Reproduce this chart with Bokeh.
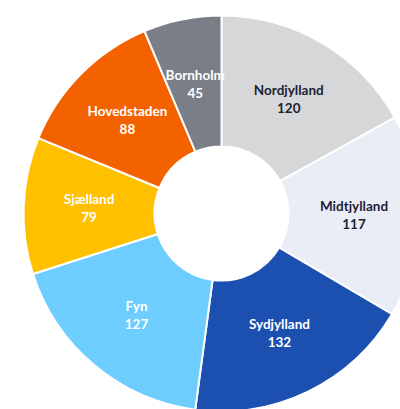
import math
from bokeh.plotting import figure
from bokeh.models import Range1d, ColumnDataSource
from bokeh.core.properties import value
from bokeh.embed import file_html
from bokeh.resources import INLINE

regions = ["Nordjylland", "Midtjylland", "Sydjylland", "Fyn", "Sjælland", "Hovedstaden", "Bornholm"]
counts = [120, 117, 132, 127, 79, 88, 45]
colors = ["#d6d7d9", "#e9edf6", "#1b4fb0", "#6dcdff", "#ffc000", "#f46200", "#7a7f87"]
label_colors = ["#1e1e35", "#1e1e35", "white", "white", "white", "white", "white"]

total = sum(counts)
cx, cy = 221, -213
r_in, r_out = 67, 198
r_lab = (r_in + r_out) / 2

starts, ends, lx, ly, vals = [], [], [], [], []
cum = 0
for c in counts:
    a0 = cum / total * 2 * math.pi
    a1 = (cum + c) / total * 2 * math.pi
    starts.append(math.pi / 2 - a0)
    ends.append(math.pi / 2 - a1)
    mid = (a0 + a1) / 2
    lx.append(cx + r_lab * math.sin(mid))
    ly.append(cy + r_lab * math.cos(mid))
    vals.append(str(c))
    cum += c

src = ColumnDataSource(dict(start=starts, end=ends, color=colors, name=regions,
                            val=vals, lx=lx, ly=ly, tc=label_colors))

W, H = 400, 409
p = figure(width=W, height=H, output_backend="svg", toolbar_location=None,
           x_range=Range1d(0, W), y_range=Range1d(-H, 0), min_border=0)
p.axis.visible = False
p.grid.visible = False
p.outline_line_color = None
p.background_fill_color = "white"

p.annular_wedge(x=cx, y=cy, inner_radius=r_in, outer_radius=r_out,
                start_angle="start", end_angle="end", direction="clock",
                fill_color="color", line_color="white", line_width=2, source=src)

p.text(x="lx", y="ly", text="name", text_color="tc", text_font=value("Lato"),
       text_font_style="bold", text_font_size="13.5px", text_align="center",
       text_baseline="middle", y_offset=-9, source=src)
p.text(x="lx", y="ly", text="val", text_color="tc", text_font=value("Lato"),
       text_font_style="bold", text_font_size="13.5px", text_align="center",
       text_baseline="middle", y_offset=9, source=src)

open("out.html", "w").write(file_html(p, INLINE))
